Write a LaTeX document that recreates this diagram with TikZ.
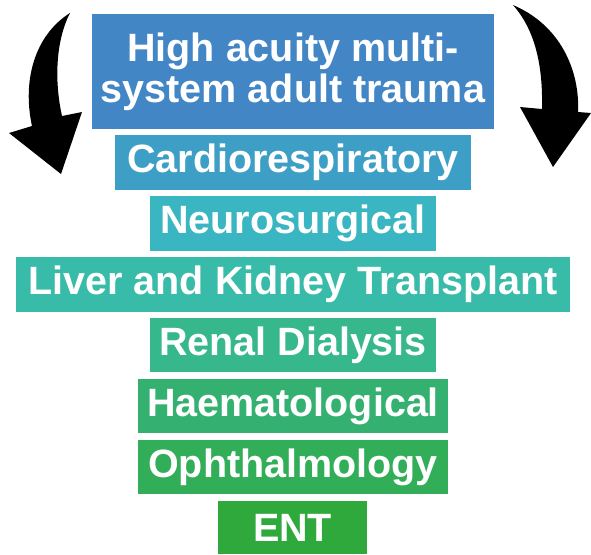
\documentclass[tikz,border=0pt]{standalone}
\usepackage{fontspec}
\setmainfont{Liberation Sans}
\definecolor{cA}{RGB}{66,134,198}
\definecolor{cB}{RGB}{61,159,198}
\definecolor{cC}{RGB}{58,182,194}
\definecolor{cD}{RGB}{56,187,169}
\definecolor{cE}{RGB}{54,183,140}
\definecolor{cF}{RGB}{52,177,113}
\definecolor{cG}{RGB}{50,173,88}
\definecolor{cH}{RGB}{47,168,60}
\begin{document}
\begin{tikzpicture}[x=1pt, y=-1pt, line join=round,
  box/.style={inner sep=0pt, text=white, align=center, font=\fontsize{39.5}{41}\selectfont\bfseries}]
\useasboundingbox (0,0) rectangle (591,554);
\node[box, fill=cA, minimum width=402, minimum height=115] (trauma) at (293,71.5) {High acuity multi-\\system adult trauma};
\node[box, fill=cB, minimum width=356, minimum height=55] (cardio) at (293,162.5) {Cardiorespiratory};
\node[box, fill=cC, minimum width=286, minimum height=55] (neuro) at (293,223.5) {Neurosurgical};
\node[box, fill=cD, minimum width=554, minimum height=55] (liver) at (293,284.5) {Liver and Kidney Transplant};
\node[box, fill=cE, minimum width=286, minimum height=54] (renal) at (293,345) {Renal Dialysis};
\node[box, fill=cF, minimum width=310, minimum height=54] (haem) at (293,406) {Haematological};
\node[box, fill=cG, minimum width=310, minimum height=54] (ophth) at (293,467) {Ophthalmology};
\node[box, fill=cH, minimum width=149, minimum height=53] (ent) at (292.5,527.5) {ENT};
% curved arrows on both sides
\fill (70,13) .. controls (35,35) and (22,80) .. (32,126) -- (9,133) -- (61,174) -- (82,112) -- (62,116) .. controls (54,80) and (56,40) .. (70,13) -- cycle;
\fill (513,5) .. controls (560,25) and (580,70) .. (578,112) -- (591,113) -- (553,167) -- (520,107) -- (542,109) .. controls (543,65) and (535,30) .. (513,5) -- cycle;
\end{tikzpicture}
\end{document}
